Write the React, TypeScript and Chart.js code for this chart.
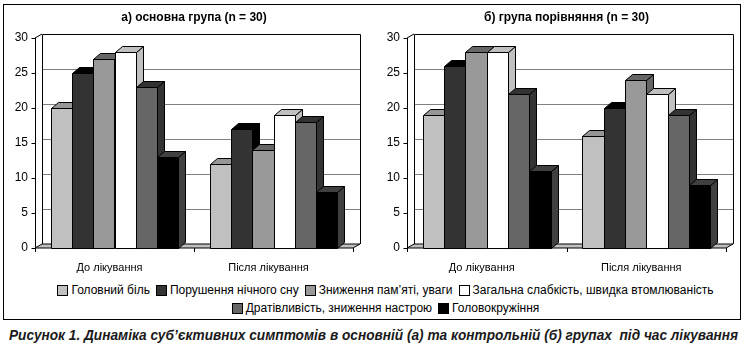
import React, { useEffect, useRef } from 'react';
import { Chart, registerables } from 'chart.js';

Chart.register(...registerables);

// ---- data ----
const categories = ['До лікування', 'Після лікування'];
const symptoms = [
  'Головний біль',
  'Порушення нічного сну',
  'Зниження пам’яті, уваги',
  'Загальна слабкість, швидка втомлюваність',
  'Дратівливість, зниження настрою',
  'Головокружіння',
];
const mainBefore = [20, 25, 27, 28, 23, 13];
const mainAfter = [12, 17, 14, 19, 18, 8];
const compBefore = [19, 26, 28, 28, 22, 11];
const compAfter = [16, 20, 24, 22, 19, 9];
const yTicks = [0, 5, 10, 15, 20, 25, 30];
const titleMain = 'а) основна група (n = 30)';
const titleComp = 'б) група порівняння (n = 30)';
const caption = 'Рисунок 1. Динаміка суб’єктивних симптомів в основній (а) та контрольній (б) групах  під час лікування';

// ---- styles ----
const fills = ['#c0c0c0', '#333333', '#999999', '#ffffff', '#666666', '#000000'];
const shades = ['#969696', '#000000', '#666666', '#c0c0c0', '#333333', '#404040'];
const FONT = '"Liberation Sans", Arial, sans-serif';
const WALL_DX = 7, WALL_DY = -4, BAR_DX = 7, BAR_DY = -6;

const box3d = {
  id: 'box3d',
  beforeDatasetsDraw(chart: any) {
    const { ctx, chartArea: a, scales } = chart;
    const y = scales.y;
    const L = a.left, R = a.right, T = y.getPixelForValue(30), B = y.getPixelForValue(0);
    ctx.save();
    ctx.lineWidth = 1;
    // floor
    ctx.beginPath();
    ctx.moveTo(L, B); ctx.lineTo(R, B); ctx.lineTo(R + WALL_DX, B + WALL_DY); ctx.lineTo(L + WALL_DX, B + WALL_DY); ctx.closePath();
    ctx.fillStyle = '#c0c0c0'; ctx.fill();
    ctx.strokeStyle = '#000'; ctx.stroke();
    // gridlines on back wall
    ctx.strokeStyle = '#808080';
    for (const v of yTicks) {
      if (v === 0 || v === 30) continue;
      const yy = Math.round(y.getPixelForValue(v) + WALL_DY) + 0.5;
      ctx.beginPath();
      ctx.moveTo(L + WALL_DX, yy); ctx.lineTo(R + WALL_DX, yy);
      ctx.stroke();
    }
    // wall edges
    ctx.strokeStyle = '#000';
    const lx = Math.round(L + WALL_DX) + 0.5, rx = Math.round(R + WALL_DX) + 0.5, ty = Math.round(T + WALL_DY) + 0.5;
    ctx.beginPath();
    ctx.moveTo(lx, B + WALL_DY); ctx.lineTo(lx, ty); ctx.lineTo(rx, ty); ctx.lineTo(rx, B + WALL_DY);
    ctx.stroke();
    ctx.beginPath();
    ctx.moveTo(L, T); ctx.lineTo(L + WALL_DX, T + WALL_DY);
    ctx.stroke();
    // front axis with ticks
    const fx = Math.round(L) + 0.5;
    ctx.beginPath(); ctx.moveTo(fx, T); ctx.lineTo(fx, B); ctx.stroke();
    for (const v of yTicks) {
      const yy = Math.round(y.getPixelForValue(v)) + 0.5;
      ctx.beginPath(); ctx.moveTo(fx - 4, yy); ctx.lineTo(fx, yy); ctx.stroke();
    }
    const n = categories.length;
    for (let i = 0; i <= n; i++) {
      const xx = Math.round(L + ((R - L) * i) / n) + 0.5;
      ctx.beginPath(); ctx.moveTo(xx, B); ctx.lineTo(xx, B + 4); ctx.stroke();
    }
    ctx.restore();
  },
  beforeDatasetDraw() {
    return false; // bars are drawn in 3D below, in series order
  },
  afterDatasetsDraw(chart: any) {
    const { ctx } = chart;
    ctx.save();
    ctx.lineWidth = 1;
    ctx.strokeStyle = '#000';
    chart.data.datasets.forEach((ds: any, i: number) => {
      const meta = chart.getDatasetMeta(i);
      for (const el of meta.data) {
        const { x, y, base, width } = el.getProps(['x', 'y', 'base', 'width'], true);
        const x0 = Math.round(x - width / 2) + 0.5, x1 = Math.round(x + width / 2) + 0.5;
        const yt = Math.round(y) + 0.5, yb = Math.round(base) + 0.5;
        ctx.fillStyle = shades[i];
        ctx.beginPath();
        ctx.moveTo(x1, yt); ctx.lineTo(x1 + BAR_DX, yt + BAR_DY); ctx.lineTo(x1 + BAR_DX, yb + BAR_DY); ctx.lineTo(x1, yb); ctx.closePath();
        ctx.fill(); ctx.stroke();
        ctx.beginPath();
        ctx.moveTo(x0, yt); ctx.lineTo(x1, yt); ctx.lineTo(x1 + BAR_DX, yt + BAR_DY); ctx.lineTo(x0 + BAR_DX, yt + BAR_DY); ctx.closePath();
        ctx.fill(); ctx.stroke();
        ctx.fillStyle = ds.backgroundColor;
        ctx.beginPath();
        ctx.rect(x0, yt, x1 - x0, yb - yt);
        ctx.fill(); ctx.stroke();
      }
    });
    ctx.restore();
  },
};

function Panel({ title, before, after, left, width }: { title: string; before: number[]; after: number[]; left: number; width: number }) {
  const ref = useRef<HTMLCanvasElement>(null);
  useEffect(() => {
    if (!ref.current) return;
    const chart = new Chart(ref.current, {
      type: 'bar',
      data: {
        labels: categories,
        datasets: symptoms.map((s, i) => ({
          label: s,
          data: [before[i], after[i]],
          backgroundColor: fills[i],
          borderColor: '#000',
          borderWidth: 1,
          barPercentage: 1,
          categoryPercentage: 0.8,
        })),
      },
      options: {
        responsive: false,
        animation: false,
        layout: { padding: { left: 0, right: 19, top: 0, bottom: 0 } },
        plugins: {
          legend: { display: false },
          tooltip: { enabled: false },
          title: {
            display: true,
            fullSize: false,
            text: title,
            color: '#000',
            font: { family: FONT, size: 12, weight: 'bold' },
            padding: { top: 10, bottom: 13.6 },
          },
        },
        scales: {
          x: {
            grid: { display: false, drawTicks: false },
            border: { display: false },
            ticks: { color: '#000', font: { family: FONT, size: 11 }, padding: 13, labelOffset: -5 },
            afterFit: (s: any) => { s.height = 32; },
          },
          y: {
            min: 0,
            max: 30,
            grid: { display: false, drawTicks: false },
            border: { display: false },
            ticks: { stepSize: 5, color: '#000', font: { family: FONT, size: 12 }, padding: 7 },
            afterFit: (s: any) => { s.width = 35; },
          },
        },
      },
      plugins: [box3d],
    } as any);
    return () => chart.destroy();
  }, []);
  return (
    <canvas
      ref={ref}
      width={width}
      height={280}
      style={{ position: 'absolute', left, top: 0, width, height: 280 }}
    />
  );
}

const legendRows = [[0, 1, 2, 3], [4, 5]];

export default function App() {
  const capRef = useRef<HTMLSpanElement>(null);
  useEffect(() => {
    document.body.style.margin = '0';
    const el = capRef.current;
    if (el) {
      const w = el.offsetWidth;
      if (w > 0) el.style.transform = `scaleX(${729 / w})`;
    }
  }, []);
  return (
    <div style={{ position: 'relative', width: 745, height: 350, background: '#fff', overflow: 'hidden', fontFamily: FONT }}>
      <div style={{ position: 'absolute', left: 3, top: 4, width: 736, height: 314, border: '1px solid #000' }} />
      <Panel title={titleMain} before={mainBefore} after={mainAfter} left={0} width={372} />
      <Panel title={titleComp} before={compBefore} after={compAfter} left={372} width={373} />
      {legendRows.map((row, r) => (
        <div
          key={r}
          style={{
            position: 'absolute', left: 26, width: 719, top: 283 + r * 18, height: 14,
            display: 'flex', justifyContent: 'center', alignItems: 'center', fontSize: 12, color: '#000', whiteSpace: 'nowrap',
          }}
        >
          {row.map((i) => (
            <span key={i} style={{ display: 'inline-flex', alignItems: 'center', margin: '0 3px' }}>
              <span style={{ display: 'inline-block', width: 9, height: 9, border: '1px solid #000', background: fills[i], marginRight: 3 }} />
              {symptoms[i]}
            </span>
          ))}
        </div>
      ))}
      <div style={{ position: 'absolute', left: 0, width: 745, top: 326, textAlign: 'center' }}>
        <span
          ref={capRef}
          style={{
            display: 'inline-block', transformOrigin: 'center',
            fontFamily: FONT, fontWeight: 'bold', fontStyle: 'italic', fontSize: 14, color: '#1a1a1a', whiteSpace: 'pre',
          }}
        >
          {caption}
        </span>
      </div>
    </div>
  );
}
